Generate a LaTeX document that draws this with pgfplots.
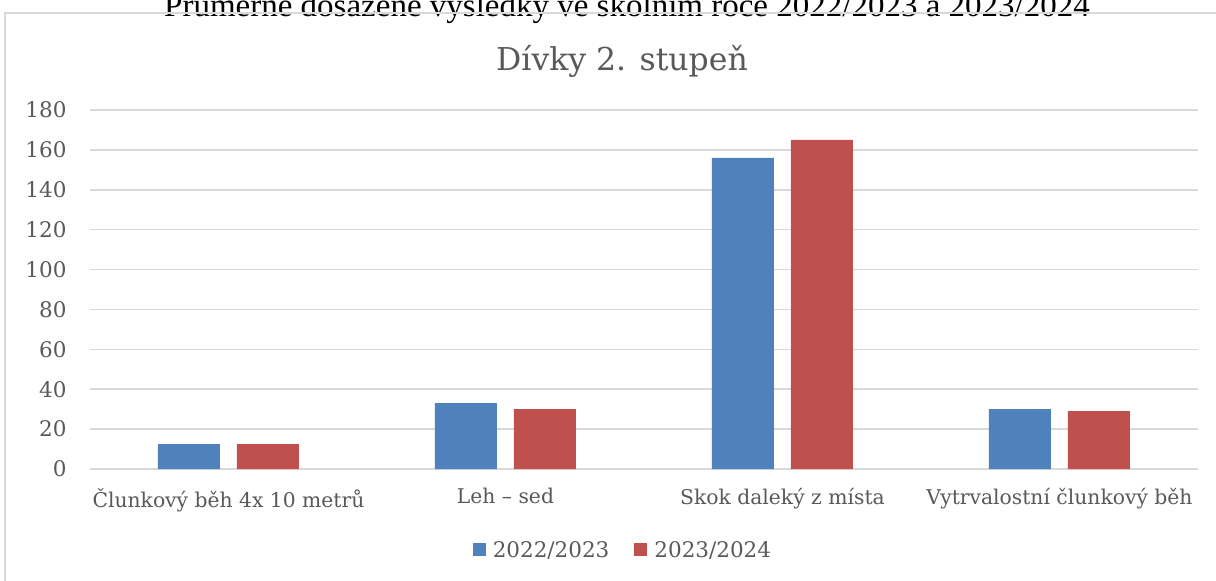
\documentclass[border=0pt]{standalone}
\usepackage{pgfplots}
\pgfplotsset{compat=1.18}
\usepackage{fontspec}
\setmainfont{DejaVu Serif}
\newfontfamily\timesf{Liberation Serif}
\definecolor{bblue}{HTML}{4F81BD}
\definecolor{bred}{HTML}{C0504D}
\definecolor{gridc}{HTML}{D9D9D9}
\definecolor{txt}{HTML}{595959}
\begin{document}
\begin{tikzpicture}[x=1pt,y=1pt]
\clip (0,0) rectangle (1216,581);
\fill[white] (0,0) rectangle (1216,581);
\node[anchor=base, inner sep=0pt, font=\timesf\fontsize{33}{33}\selectfont] at (627,564) {Průměrně dosažené výsledky ve školním roce 2022/2023 a 2023/2024};
\draw[gridc, line width=1.2pt] (5,-10) -- (5,568) -- (1230,568);
\node[txt, inner sep=0pt, font=\fontsize{31.5}{31.5}\selectfont] at (622,520) {Dívky 2. stupeň};
\begin{axis}[
  at={(90pt,112pt)}, anchor=south west, scale only axis,
  width=1108pt, height=359pt,
  ymin=0, ymax=180, xmin=-0.5, xmax=3.5,
  ytick={0,20,...,180},
  xtick=data,
  xticklabels={Člunkový běh 4x 10 metrů, Leh – sed, Skok daleký z místa, Vytrvalostní člunkový běh},
  ybar=17pt, bar width=62pt,
  axis line style={draw=none},
  ymajorgrids, grid style={gridc, line width=1.5pt},
  major tick length=0pt,
  /pgf/number format/assume math mode=true,
  tick label style={txt},
  yticklabel style={xshift=-20pt, font=\fontsize{21.5}{21.5}\selectfont},
  xticklabel style={yshift=-16pt, font=\fontsize{20.3}{20.3}\selectfont},
  legend style={at={(0.481,-0.2256)}, anchor=center, draw=none, fill=none,
    legend columns=2, font=\fontsize{21.5}{21.5}\selectfont, text=txt,
    /tikz/every odd column/.append style={column sep=5pt},
    /tikz/every even column/.append style={column sep=23pt}},
  legend image code/.code={\fill (0pt,-6.5pt) rectangle (13pt,6.5pt);},
]
\addplot[fill=bblue, draw=none] coordinates {(0,12.5) (1,33) (2,156) (3,30)};
\addplot[fill=bred, draw=none] coordinates {(0,12.5) (1,30) (2,165) (3,29)};
\legend{2022/2023, 2023/2024}
\end{axis}
\end{tikzpicture}
\end{document}
